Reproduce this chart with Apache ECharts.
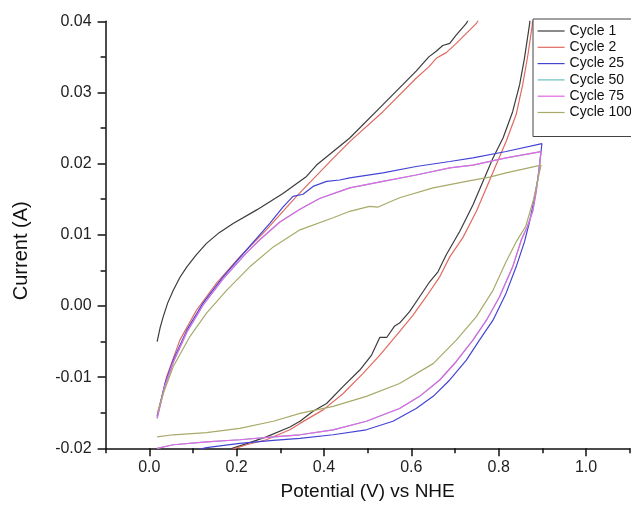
<!DOCTYPE html>
<html>
<head>
<meta charset="utf-8">
<script src="https://cdn.jsdelivr.net/npm/echarts@6/dist/echarts.min.js"></script>
<style>
html,body{margin:0;padding:0;background:#fff;}
#chart{width:631px;height:512px;}
</style>
</head>
<body>
<div id="chart"></div>
<script>
// ---- data (Potential V, Current A) ----
const seriesNames = ['Cycle 1', 'Cycle 2', 'Cycle 25', 'Cycle 50', 'Cycle 75', 'Cycle 100'];
const seriesColors = ['#3c3c3c', '#e06a60', '#4444d4', '#6cc0c0', '#e466e4', '#a8aa6a'];

const cycle1 = [
  [0.018,-0.0050],[0.025,-0.0030],[0.032,-0.0015],[0.042,0.0004],[0.055,0.0022],[0.070,0.0040],[0.086,0.0055],
  [0.108,0.0072],[0.131,0.0088],[0.160,0.0103],[0.192,0.0116],
  [0.246,0.0135],[0.306,0.0158],[0.360,0.0182],[0.383,0.0198],[0.459,0.0236],[0.535,0.0283],
  [0.611,0.0330],[0.640,0.0350],[0.657,0.0358],[0.672,0.0366],[0.688,0.0369],[0.703,0.0381],
  [0.726,0.0397],[0.745,0.0420],[0.895,0.0560],[0.873,0.0420],[0.871,0.0397],[0.859,0.0348],
  [0.848,0.0311],[0.832,0.0273],[0.810,0.0236],[0.787,0.0208],[0.764,0.0175],[0.741,0.0142],
  [0.711,0.0105],[0.680,0.0072],[0.661,0.0048],[0.642,0.0034],[0.619,0.0013],[0.596,-0.0008],
  [0.573,-0.0024],[0.562,-0.0028],[0.544,-0.0044],[0.528,-0.0044],[0.509,-0.0069],[0.482,-0.0090],
  [0.444,-0.0113],[0.406,-0.0137],[0.375,-0.0148],[0.345,-0.0162],[0.322,-0.0170],[0.268,-0.0184],
  [0.230,-0.0192],[0.200,-0.0198],[0.185,-0.0201],[0.150,-0.0207]
];
const cycle2 = [
  [0.018,-0.0155],[0.040,-0.0099],[0.070,-0.0048],[0.108,-0.0006],[0.154,0.0032],[0.207,0.0069],
  [0.268,0.0107],[0.337,0.0154],[0.417,0.0205],[0.459,0.0231],[0.535,0.0273],[0.611,0.0320],
  [0.640,0.0336],[0.657,0.0348],[0.680,0.0356],[0.703,0.0369],[0.749,0.0397],[0.770,0.0420],
  [0.900,0.0550],[0.879,0.0420],[0.877,0.0395],[0.867,0.0353],[0.855,0.0311],[0.840,0.0269],
  [0.817,0.0231],[0.794,0.0198],[0.772,0.0166],[0.749,0.0133],[0.718,0.0096],[0.688,0.0069],
  [0.665,0.0041],[0.634,0.0013],[0.604,-0.0013],[0.573,-0.0036],[0.528,-0.0069],[0.489,-0.0095],
  [0.444,-0.0123],[0.398,-0.0146],[0.345,-0.0165],[0.322,-0.0174],[0.268,-0.0188],[0.223,-0.0195],
  [0.192,-0.0201],[0.160,-0.0207]
];
const cycle25 = [
  [0.018,-0.0155],[0.036,-0.0109],[0.055,-0.0076],[0.086,-0.0034],[0.123,0.0004],[0.169,0.0041],
  [0.223,0.0079],[0.276,0.0116],[0.306,0.0139],[0.329,0.0154],[0.352,0.0157],[0.375,0.0168],
  [0.406,0.0175],[0.436,0.0177],[0.459,0.0180],[0.535,0.0187],[0.611,0.0196],[0.688,0.0203],
  [0.741,0.0208],[0.817,0.0217],[0.899,0.0228],[0.890,0.0180],[0.882,0.0152],[0.871,0.0119],
  [0.859,0.0090],[0.840,0.0055],[0.817,0.0018],[0.787,-0.0020],[0.756,-0.0048],[0.726,-0.0076],
  [0.688,-0.0104],[0.650,-0.0127],[0.611,-0.0144],[0.558,-0.0162],[0.497,-0.0174],[0.421,-0.0181],
  [0.345,-0.0186],[0.284,-0.0189],[0.207,-0.0193],[0.131,-0.0199],[0.090,-0.0205]
];
const cycle50 = [
  [0.018,-0.0158],[0.036,-0.0112],[0.055,-0.0079],[0.086,-0.0037],[0.123,0.0001],[0.169,0.0038],
  [0.223,0.0075],[0.253,0.0093],[0.299,0.0118],[0.345,0.0136],[0.390,0.0151],[0.436,0.0161],
  [0.459,0.0166],[0.535,0.0175],[0.611,0.0184],[0.688,0.0194],[0.741,0.0198],[0.817,0.0208],
  [0.897,0.0217],[0.893,0.0194],[0.886,0.0161],[0.878,0.0133],[0.866,0.0112],[0.852,0.0093],
  [0.832,0.0055],[0.802,0.0013],[0.772,-0.0020],[0.741,-0.0048],[0.703,-0.0078],[0.665,-0.0104],
  [0.619,-0.0127],[0.573,-0.0144],[0.497,-0.0162],[0.421,-0.0174],[0.345,-0.0181],[0.284,-0.0184],
  [0.207,-0.0188],[0.131,-0.0191],[0.055,-0.0195],[0.018,-0.0200]
];
const cycle75 = [
  [0.018,-0.0158],[0.036,-0.0112],[0.055,-0.0079],[0.086,-0.0037],[0.123,0.0001],[0.169,0.0038],
  [0.223,0.0075],[0.253,0.0093],[0.299,0.0118],[0.345,0.0136],[0.390,0.0151],[0.436,0.0161],
  [0.459,0.0166],[0.535,0.0175],[0.611,0.0184],[0.688,0.0194],[0.741,0.0198],[0.817,0.0208],
  [0.897,0.0217],[0.893,0.0194],[0.886,0.0161],[0.878,0.0133],[0.866,0.0112],[0.852,0.0093],
  [0.832,0.0055],[0.802,0.0013],[0.772,-0.0020],[0.741,-0.0048],[0.703,-0.0078],[0.665,-0.0104],
  [0.619,-0.0127],[0.573,-0.0144],[0.497,-0.0162],[0.421,-0.0174],[0.345,-0.0181],[0.284,-0.0184],
  [0.207,-0.0188],[0.131,-0.0191],[0.055,-0.0195],[0.018,-0.0200]
];
const cycle100 = [
  [0.018,-0.0151],[0.032,-0.0123],[0.055,-0.0085],[0.093,-0.0043],[0.131,-0.0010],[0.177,0.0022],
  [0.230,0.0055],[0.284,0.0083],[0.345,0.0107],[0.421,0.0124],[0.459,0.0133],[0.504,0.0140],
  [0.524,0.0139],[0.573,0.0152],[0.650,0.0166],[0.726,0.0175],[0.779,0.0181],[0.817,0.0187],
  [0.897,0.0198],[0.880,0.0150],[0.862,0.0112],[0.840,0.0090],[0.817,0.0062],[0.787,0.0022],
  [0.749,-0.0015],[0.703,-0.0048],[0.650,-0.0081],[0.573,-0.0109],[0.497,-0.0127],[0.421,-0.0141],
  [0.345,-0.0151],[0.284,-0.0162],[0.207,-0.0172],[0.131,-0.0178],[0.055,-0.0181],[0.018,-0.0184]
];
const allCycles = [cycle1, cycle2, cycle25, cycle50, cycle75, cycle100];

// ---- axis ticks ----
const xMajorTicks = [0.0, 0.2, 0.4, 0.6, 0.8, 1.0];
const xMinorTicks = [-0.1, 0.1, 0.3, 0.5, 0.7, 0.9, 1.1];
const xRange = [-0.1, 1.1];
const yRange = [-0.02, 0.04];
const yStep = 0.01;

const FONT = 'Liberation Sans, Arial, sans-serif';
const chart = echarts.init(document.getElementById('chart'), null, {renderer: 'canvas'});

const option = {
  animation: false,
  backgroundColor: '#fff',
  grid: {left: 105.6, right: 1.3, top: 21.3, bottom: 63.7, containLabel: false, outerBoundsMode: 'none'},
  legend: {
    orient: 'vertical',
    left: 533, top: 19,
    padding: [5, 40, 17, 4],
    borderColor: '#444', borderWidth: 1,
    itemWidth: 27, itemHeight: 14, itemGap: 2.3,
    data: seriesNames,
    itemStyle: {opacity: 0},
    lineStyle: {width: 1.2},
    textStyle: {fontFamily: FONT, fontSize: 14, color: '#111'}
  },
  xAxis: [{
    type: 'value', min: xRange[0], max: xRange[1],
    name: 'Potential (V) vs NHE', nameLocation: 'middle', nameGap: 34,
    nameTextStyle: {fontFamily: FONT, fontSize: 19, color: '#111'},
    axisLine: {onZero: false, lineStyle: {color: '#111', width: 1.5}},
    axisTick: {show: true, inside: false, length: 8, customValues: xMajorTicks, lineStyle: {color: '#111', width: 1.5}},
    axisLabel: {customValues: xMajorTicks, margin: 11, fontFamily: FONT, fontSize: 16, color: '#222',
      formatter: v => v.toFixed(1)},
    splitLine: {show: false}
  }, {
    type: 'value', min: xRange[0], max: xRange[1], position: 'bottom',
    axisLine: {show: false, onZero: false},
    axisTick: {show: true, inside: false, length: 5, customValues: xMinorTicks, lineStyle: {color: '#111', width: 1.5}},
    axisLabel: {show: false},
    splitLine: {show: false}
  }],
  yAxis: {
    type: 'value', min: yRange[0], max: yRange[1], interval: yStep,
    name: 'Current (A)', nameLocation: 'middle', nameGap: 74,
    nameTextStyle: {fontFamily: FONT, fontSize: 20, color: '#111', padding: [0, 32, 0, 0]},
    axisLine: {onZero: false, lineStyle: {color: '#111', width: 1.5}},
    axisTick: {show: true, inside: false, length: 8, lineStyle: {color: '#111', width: 1.5}},
    minorTick: {show: true, splitNumber: 2, length: 5, lineStyle: {color: '#111', width: 1.5}},
    axisLabel: {margin: 14, fontFamily: FONT, fontSize: 16, color: '#222',
      formatter: v => (Math.abs(v) < 1e-9 ? 0 : v).toFixed(2)},
    splitLine: {show: false}
  },
  series: allCycles.map((d, i) => ({
    name: seriesNames[i], type: 'line', data: d, xAxisIndex: 0,
    symbol: 'none', smooth: false, clip: true,
    lineStyle: {color: seriesColors[i], width: 1.2},
    itemStyle: {color: seriesColors[i]}
  }))
};
chart.setOption(option);
</script>
</body>
</html>
